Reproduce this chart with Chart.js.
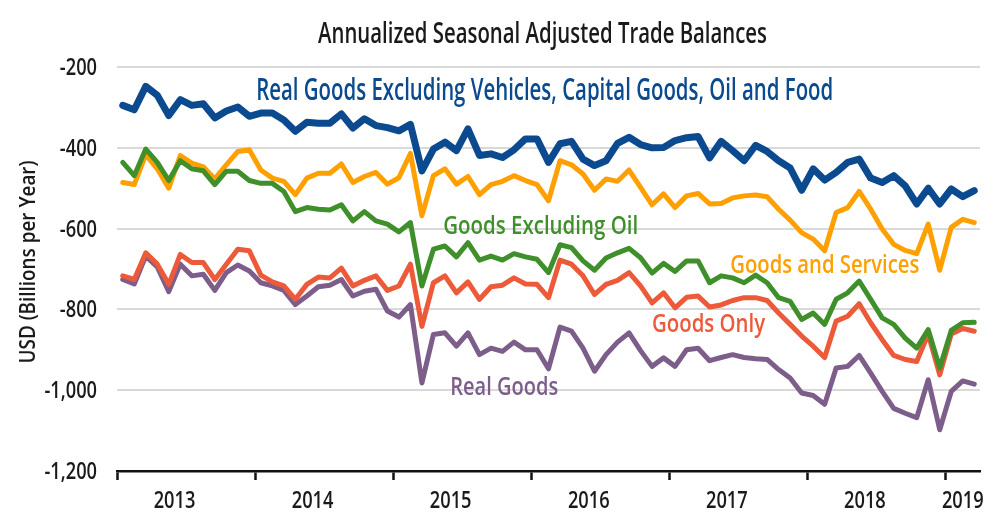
<!DOCTYPE html>
<html>
<head>
<meta charset="utf-8">
<title>Annualized Seasonal Adjusted Trade Balances</title>
<script src="https://cdn.jsdelivr.net/npm/chart.js@4.4.1/dist/chart.umd.min.js"></script>
<style>
  html, body { margin: 0; padding: 0; background: #fff; }
  #wrap { width: 1000px; height: 527px; position: relative; }
</style>
</head>
<body>
<div id="wrap"><canvas id="tradeChart"></canvas></div>
<script>
// monthly, Jan 2013 .. Mar 2019, USD billions per year
const yearLabels = ['2013', '2014', '2015', '2016', '2017', '2018', '2019'];
const yTickValues = [-200, -400, -600, -800, -1000, -1200];

const realGoodsExVehicles = [
  -295, -306, -248, -270, -320, -281, -295, -291, -326, -309, -299, -322,
  -314, -314, -331, -359, -337, -339, -339, -316, -351, -328, -345, -350,
  -358, -342, -457, -403, -386, -407, -353, -419, -415, -424, -405, -378,
  -378, -436, -390, -384, -428, -444, -432, -389, -374, -392, -400, -399,
  -382, -375, -372, -425, -384, -407, -432, -394, -409, -432, -450, -505,
  -452, -480, -461, -436, -428, -475, -486, -469, -494, -539, -500, -539,
  -502, -521, -506
];
const goodsExOil = [
  -436, -469, -403, -436, -481, -432, -452, -457, -491, -458, -458, -481,
  -488, -488, -508, -558, -548, -552, -554, -541, -581, -558, -581, -589,
  -608, -585, -742, -651, -643, -670, -635, -678, -668, -678, -662, -670,
  -676, -709, -640, -647, -680, -703, -673, -660, -649, -672, -710, -686,
  -706, -680, -680, -734, -717, -722, -734, -715, -734, -771, -780, -825,
  -809, -837, -775, -759, -730, -775, -821, -837, -871, -896, -850, -945,
  -852, -833, -832
];
const goodsAndServices = [
  -486, -491, -417, -452, -500, -419, -438, -447, -477, -442, -409, -405,
  -455, -475, -483, -516, -475, -463, -463, -440, -486, -471, -461, -490,
  -474, -414, -568, -469, -452, -490, -471, -516, -491, -483, -469, -481,
  -491, -531, -432, -442, -465, -505, -477, -483, -455, -498, -541, -514,
  -548, -519, -513, -539, -538, -524, -519, -517, -521, -552, -579, -610,
  -626, -655, -560, -548, -508, -552, -601, -639, -654, -662, -589, -703,
  -597, -577, -585
];
const goodsOnly = [
  -717, -726, -660, -688, -738, -664, -684, -684, -726, -688, -651, -655,
  -715, -732, -742, -775, -738, -720, -722, -698, -742, -728, -717, -753,
  -742, -688, -842, -734, -717, -759, -732, -775, -744, -740, -722, -737,
  -738, -771, -678, -688, -717, -763, -738, -728, -709, -742, -784, -759,
  -796, -770, -767, -794, -789, -778, -771, -771, -778, -809, -837, -866,
  -891, -919, -829, -817, -786, -833, -875, -914, -924, -929, -861, -962,
  -861, -847, -854
];
const realGoods = [
  -726, -737, -668, -695, -756, -688, -717, -713, -753, -709, -690, -705,
  -734, -742, -753, -788, -767, -744, -740, -726, -767, -755, -750, -804,
  -819, -788, -982, -862, -858, -891, -858, -912, -896, -904, -881, -900,
  -900, -947, -844, -854, -896, -953, -912, -881, -858, -902, -941, -920,
  -941, -900, -896, -927, -919, -912, -919, -922, -924, -949, -970, -1007,
  -1013, -1035, -945, -941, -914, -958, -1003, -1045, -1057, -1068, -974, -1098,
  -1003, -977, -985
];

const FONT = "'Open Sans', 'Noto Sans', 'DejaVu Sans', sans-serif";
const WEIGHT = '600';
const INK = '#1a1a1a';
const BLUE = '#0b4a8e', GREEN = '#3f8f2b', ORANGE = '#ffa000', RED = '#ec5a3a', PURPLE = '#7d5e8b';

// month i sits in the middle of its slot on a linear month axis
function toPoints(arr) {
  return arr.map((v, i) => ({ x: i + 0.5, y: v }));
}

// year labels sit near the middle of each year, 2019 only has three months
const yearLabelPos = yearLabels.map((y, k) => k < yearLabels.length - 1 ? k * 12 + 5 : k * 12 + 1.5);
const yearStarts = yearLabels.map((y, k) => k * 12);

// condensed look: squeeze text horizontally (to a width, or by a factor)
function drawText(ctx, text, x, y, size, color, opt) {
  opt = opt || {};
  ctx.save();
  ctx.font = WEIGHT + ' ' + size + 'px ' + FONT;
  ctx.fillStyle = color;
  ctx.textBaseline = 'alphabetic';
  ctx.textAlign = opt.align || 'left';
  const w = ctx.measureText(text).width;
  const sx = opt.width ? opt.width / w : (opt.squeeze || 0.76);
  ctx.translate(x, y);
  if (opt.rotate) ctx.rotate(-Math.PI / 2);
  ctx.scale(sx, 1);
  ctx.fillText(text, 0, 0);
  ctx.restore();
}

// x = left edge (month), y = baseline (value)
const seriesNotes = [
  { text: 'Real Goods Excluding Vehicles, Capital Goods, Oil and Food', x: 12.1, y: -282, w: 577, size: 30, color: BLUE },
  { text: 'Goods Excluding Oil', x: 28.35, y: -613, w: 195, size: 26, color: GREEN },
  { text: 'Goods and Services', x: 53.3, y: -710, w: 189, size: 26, color: ORANGE },
  { text: 'Goods Only', x: 46.5, y: -856, w: 113, size: 26, color: RED },
  { text: 'Real Goods', x: 28.96, y: -1013, w: 108, size: 26, color: PURPLE }
];

const textPlugin = {
  id: 'texts',
  afterDatasetsDraw(chart) {
    const ctx = chart.ctx;
    const xs = chart.scales.x, ys = chart.scales.y;
    seriesNotes.forEach(n => {
      drawText(ctx, n.text, xs.getPixelForValue(n.x), ys.getPixelForValue(n.y), n.size, n.color, { width: n.w });
    });
  },
  afterDraw(chart) {
    const ctx = chart.ctx;
    const xs = chart.scales.x, ys = chart.scales.y;
    ys.ticks.forEach(t => {
      drawText(ctx, t.label, xs.left - 20, ys.getPixelForValue(t.value) + 8, 24, INK, { align: 'right' });
    });
    xs.ticks.forEach(t => {
      if (t.label) drawText(ctx, t.label, xs.getPixelForValue(t.value), xs.top + 37, 24, INK, { align: 'center' });
    });
    drawText(ctx, 'Annualized Seasonal Adjusted Trade Balances', 318, 43, 28, INK, { width: 449 });
    drawText(ctx, 'USD (Billions per Year)', 35, 262, 22, INK, { width: 203, align: 'center', rotate: true });
  }
};

const lineStyle = (color, width) => ({
  borderColor: color,
  backgroundColor: color,
  borderWidth: width,
  pointRadius: 0,
  tension: 0,
  fill: false,
  borderJoinStyle: 'round',
  borderCapStyle: 'round'
});

document.addEventListener('DOMContentLoaded', function () {
  const ctx = document.getElementById('tradeChart').getContext('2d');

  new Chart(ctx, {
    type: 'line',
    data: {
      datasets: [
        Object.assign({ label: 'Real Goods Excluding Vehicles, Capital Goods, Oil and Food', data: toPoints(realGoodsExVehicles) }, lineStyle(BLUE, 7)),
        Object.assign({ label: 'Goods Excluding Oil', data: toPoints(goodsExOil) }, lineStyle(GREEN, 5)),
        Object.assign({ label: 'Goods and Services', data: toPoints(goodsAndServices) }, lineStyle(ORANGE, 5)),
        Object.assign({ label: 'Goods Only', data: toPoints(goodsOnly) }, lineStyle(RED, 5)),
        Object.assign({ label: 'Real Goods', data: toPoints(realGoods) }, lineStyle(PURPLE, 5))
      ]
    },
    options: {
      responsive: true,
      maintainAspectRatio: false,
      animation: false,
      layout: { padding: { top: 67, right: 20, bottom: 0, left: 0 } },
      plugins: {
        legend: { display: false },
        tooltip: { enabled: false }
      },
      scales: {
        x: {
          type: 'linear',
          min: 0,
          max: 75,
          afterBuildTicks: s => {
            s.ticks = yearStarts.concat(yearLabelPos).sort((a, b) => a - b).map(v => ({ value: v }));
          },
          afterFit: s => { s.height = 56; },
          ticks: {
            autoSkip: false,
            maxRotation: 0,
            color: 'rgba(0,0,0,0)', // drawn by the texts plugin
            font: { family: FONT, size: 22 },
            callback: v => {
              const k = yearLabelPos.indexOf(v);
              return k >= 0 ? yearLabels[k] : '';
            }
          },
          grid: {
            drawOnChartArea: false,
            tickLength: 9,
            tickWidth: 2.5,
            tickColor: c => (c.tick && yearStarts.includes(c.tick.value)) ? '#111' : 'rgba(0,0,0,0)'
          },
          border: { color: '#111', width: 2.5 }
        },
        y: {
          min: -1200,
          max: -200,
          afterBuildTicks: s => { s.ticks = yTickValues.map(v => ({ value: v })); },
          afterFit: s => { s.width = 117; },
          ticks: {
            color: 'rgba(0,0,0,0)',
            font: { family: FONT, size: 22 },
            callback: v => v.toLocaleString('en-US')
          },
          grid: { color: '#d9d9d9', lineWidth: 2, drawTicks: false },
          border: { display: false }
        }
      }
    },
    plugins: [textPlugin]
  });
});
</script>
</body>
</html>
